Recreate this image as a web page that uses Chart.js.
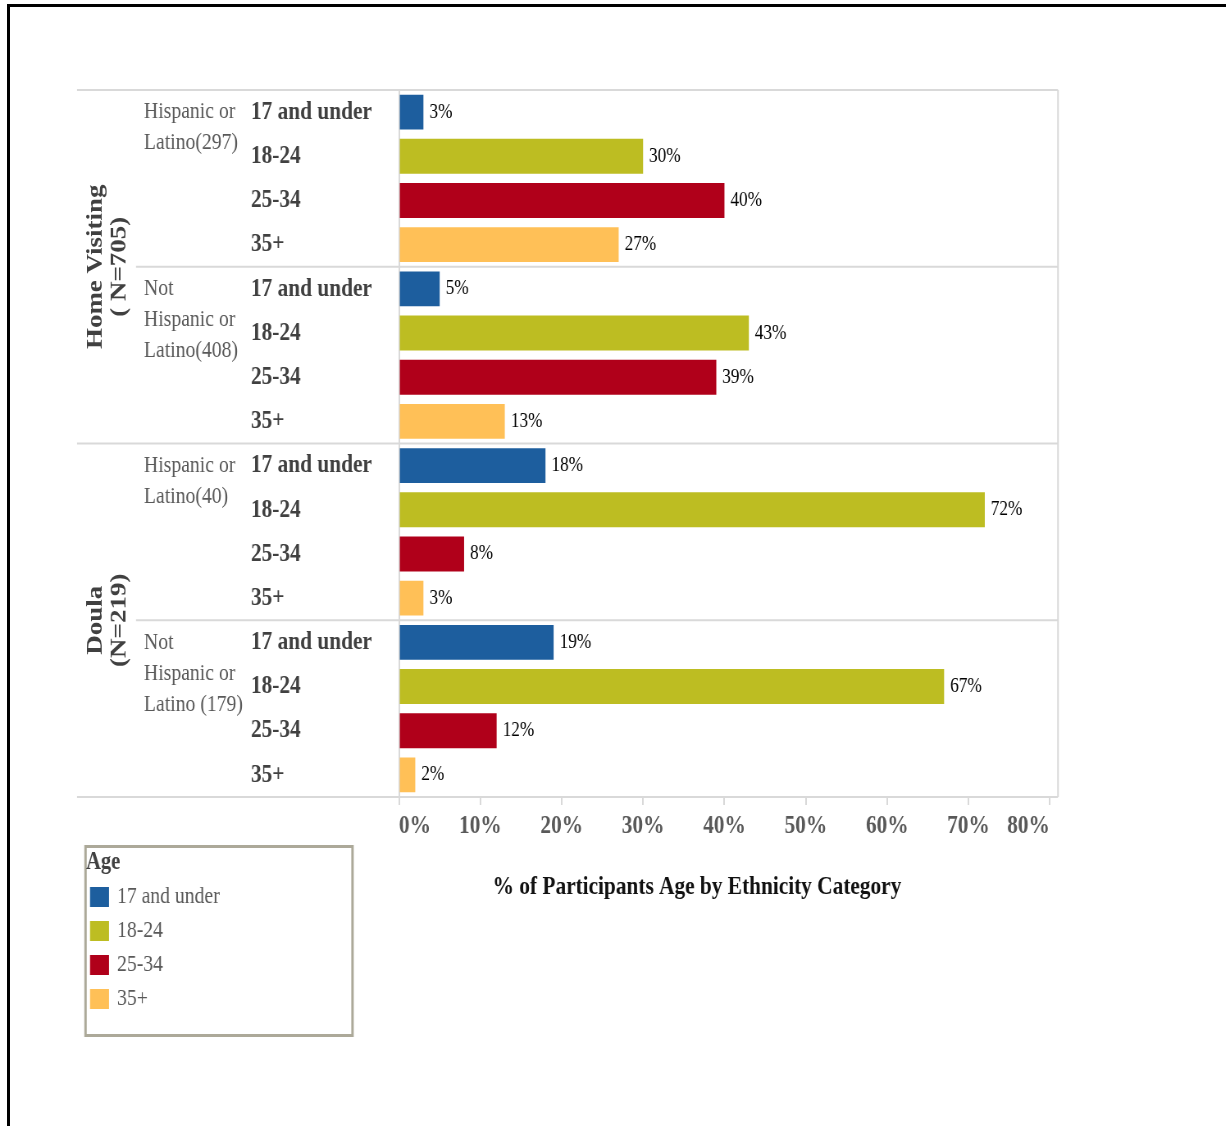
<!DOCTYPE html>
<html>
<head>
<meta charset="utf-8">
<title>Participants Age by Ethnicity</title>
<script src="https://cdn.jsdelivr.net/npm/chart.js@4.4.1/dist/chart.umd.min.js"></script>
<style>
  html, body { margin: 0; padding: 0; background: #fff; overflow: hidden; }
  body { width: 1226px; height: 1126px; position: relative; }
  #frame {
    position: absolute; left: 7px; top: 4px; right: 0; bottom: 0;
    border-top: 3px solid #000; border-left: 3px solid #000;
  }
  /* chart is drawn wide and squeezed horizontally, giving the narrow serif look */
  #chart { position: absolute; left: 0; top: 0; transform: scaleX(0.82); transform-origin: 0 0; }
</style>
</head>
<body>
<div id="frame"></div>
<canvas id="chart" width="1495" height="1126"></canvas>
<script>
const SQUEEZE = 0.82;

const ageGroups = ['17 and under', '18-24', '25-34', '35+'];
const ageColors = ['#1d5e9e', '#bdbd22', '#b0001a', '#ffc057'];

const programs = [['Home Visiting', '( N=705)'], ['Doula', '(N=219)']];
const ethnicities = [
  ['Hispanic or', 'Latino(297)'],
  ['Not', 'Hispanic or', 'Latino(408)'],
  ['Hispanic or', 'Latino(40)'],
  ['Not', 'Hispanic or', 'Latino (179)']
];

// % of participants, one entry per ethnicity block (in the order above)
const under17 = [3, 5, 18, 19];
const age18to24 = [30, 43, 72, 67];
const age25to34 = [40, 39, 8, 12];
const age35plus = [27, 13, 3, 2];

const xTicks = [0, 10, 20, 30, 40, 50, 60, 70, 80];
const chartTitle = '% of Participants Age by Ethnicity Category';

const serif = "'Liberation Serif', 'Times New Roman', serif";
const px = v => v / SQUEEZE; // page x -> canvas x

// one row per age within each ethnicity block
const rowLabels = ethnicities.flatMap(() => ageGroups);

function rowsFor(ageIdx, values) {
  const rows = new Array(rowLabels.length).fill(null);
  values.forEach((v, b) => { rows[b * ageGroups.length + ageIdx] = v; });
  return rows;
}

const seriesByAge = [under17, age18to24, age25to34, age35plus];

const datasets = seriesByAge.map((values, i) => ({
  label: ageGroups[i],
  data: rowsFor(i, values),
  backgroundColor: ageColors[i],
  borderWidth: 0,
  grouped: false,
  barPercentage: 0.79,
  categoryPercentage: 1
}));

// Lines, side labels, value labels, title and legend box
const decorations = {
  id: 'decorations',
  afterDraw(chart) {
    const { ctx, chartArea } = chart;
    const yScale = chart.scales.y;
    const rowH = (chartArea.bottom - chartArea.top) / rowLabels.length;
    const perBlock = ageGroups.length;

    ctx.save();

    // block separators
    ctx.strokeStyle = '#d9d9d9';
    ctx.lineWidth = 2;
    for (let b = 0; b <= ethnicities.length; b++) {
      const y = chartArea.top + b * perBlock * rowH;
      const x0 = b % 2 === 0 ? px(77) : px(136);
      ctx.beginPath();
      ctx.moveTo(x0, y);
      ctx.lineTo(chartArea.right, y);
      ctx.stroke();
    }
    ctx.beginPath();
    ctx.moveTo(chartArea.right, chartArea.top);
    ctx.lineTo(chartArea.right, chartArea.bottom);
    ctx.stroke();

    // value labels
    ctx.fillStyle = '#000';
    ctx.font = `21px ${serif}`;
    ctx.textAlign = 'left';
    ctx.textBaseline = 'middle';
    chart.data.datasets.forEach((ds, di) => {
      chart.getDatasetMeta(di).data.forEach((el, i) => {
        const v = ds.data[i];
        if (v === null) return;
        ctx.fillText(v + '%', el.x + px(6), el.y);
      });
    });

    // ethnicity labels
    ctx.fillStyle = '#595959';
    ctx.font = `24px ${serif}`;
    ethnicities.forEach((lines, b) => {
      const y0 = yScale.getPixelForValue(b * perBlock);
      lines.forEach((t, i) => ctx.fillText(t, px(144), y0 + i * 31));
    });

    // program labels, rotated
    ctx.fillStyle = '#404040';
    ctx.font = `bold 27px ${serif}`;
    ctx.textAlign = 'center';
    programs.forEach((lines, p) => {
      const yc = chartArea.top + (p * 2 + 1) * perBlock * rowH;
      [96, 120].forEach((x, i) => {
        ctx.save();
        ctx.translate(px(x), yc);
        ctx.rotate(-Math.PI / 2);
        ctx.fillText(lines[i], 0, 0);
        ctx.restore();
      });
    });

    // axis title
    ctx.fillStyle = '#111';
    ctx.font = `bold 26px ${serif}`;
    ctx.fillText(chartTitle, px(697), 887);

    // legend
    ctx.strokeStyle = '#aca999';
    ctx.lineWidth = 3;
    ctx.strokeRect(px(85.5), 846.5, px(267), 189);
    ctx.textAlign = 'left';
    ctx.fillStyle = '#404040';
    ctx.font = `bold 25px ${serif}`;
    ctx.fillText('Age', px(86), 863);
    ctx.font = `24px ${serif}`;
    chart.data.datasets.forEach((ds, i) => {
      const y = 897 + i * 34;
      ctx.fillStyle = ds.backgroundColor;
      ctx.fillRect(px(90), y - 10, px(19), 20);
      ctx.fillStyle = '#595959';
      ctx.fillText(ds.label, px(117), y);
    });

    ctx.restore();
  }
};

new Chart(document.getElementById('chart'), {
  type: 'bar',
  data: { labels: rowLabels, datasets },
  options: {
    indexAxis: 'y',
    responsive: false,
    animation: false,
    devicePixelRatio: 1,
    layout: {
      padding: { left: px(251), right: 1495 - px(1058), top: 90, bottom: 269 }
    },
    plugins: {
      legend: { display: false },
      tooltip: { enabled: false }
    },
    scales: {
      x: {
        min: 0,
        max: 81,
        afterBuildTicks: s => { s.ticks = xTicks.map(v => ({ value: v })); },
        afterFit: s => { s.height = 60; },
        grid: { drawOnChartArea: false, drawTicks: true, tickLength: 8, color: '#d9d9d9', lineWidth: 2 },
        border: { display: false },
        ticks: {
          align: 'inner',
          autoSkip: false,
          maxRotation: 0,
          padding: 6,
          color: '#595959',
          font: { family: serif, size: 26, weight: 'bold' },
          callback: v => v + '%'
        }
      },
      y: {
        afterFit: s => { s.width = px(399 - 251); },
        grid: { display: false },
        border: { display: true, color: '#d9d9d9', width: 2 },
        ticks: {
          crossAlign: 'far',
          autoSkip: false,
          padding: 0,
          color: '#404040',
          font: { family: serif, size: 26, weight: 'bold' }
        }
      }
    }
  },
  plugins: [decorations]
});
</script>
</body>
</html>
